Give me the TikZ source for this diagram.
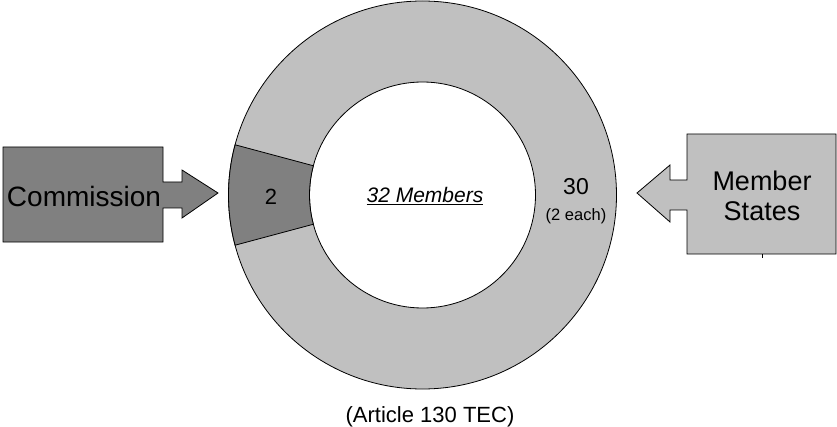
\documentclass[tikz,border=0pt]{standalone}
\usepackage{fontspec}
\setmainfont{Liberation Sans}
\definecolor{ringgray}{HTML}{C0C0C0}
\definecolor{seatgray}{HTML}{808080}
\begin{document}
\begin{tikzpicture}[x=1pt,y=1pt,
  outline/.style={draw=black,line width=0.8pt,line join=miter},
  label/.style={inner sep=0pt,text=black},
  fsz/.style={font=\fontsize{#1}{30}\selectfont}]
\useasboundingbox (0,0) rectangle (837,426);

% ring of seats
\begin{scope}[shift={(422.5,231)}]
  \fill[ringgray,even odd rule] (0,0) circle (194) (0,0) circle (113);
  \draw[line width=0.8pt] (0,0) circle (194);
  \draw[line width=0.8pt] (0,0) circle (113);
  % Commission seats
  \filldraw[fill=seatgray,outline] (165:194) arc[start angle=165,end angle=195,radius=194]
     -- (195:113) arc[start angle=195,end angle=165,radius=113] -- cycle;
\end{scope}

% Commission box with its arrow
\filldraw[fill=seatgray,outline] (3,279) -- (163,279) -- (163,244) -- (182,244) -- (182,256)
  -- (218,233) -- (182,208) -- (182,218) -- (163,218) -- (163,184) -- (3,184) -- cycle;

% Member States box with its arrow
\filldraw[fill=ringgray,outline] (687,292) -- (836,292) -- (836,172) -- (687,172) -- (687,216)
  -- (670,216) -- (670,204) -- (637,233) -- (670,261) -- (670,246) -- (687,246) -- cycle;
\coordinate (tickend) at (762,168);
\draw[line width=0.8pt] (762,172) -- (tickend);

% labels
\node[label,fsz=28,anchor=base] (commission) at (84,219) {Commission};
\node[label,fsz=27,align=center] (states) at (762,230) {Member\\States};
\node[label,fsz=22] (two) at (271,229) {2};
\node[label,fsz=21,anchor=base] (total) at (425,223) {\underline{\textit{32 Members}}};
\node[label,fsz=23,anchor=base] (thirty) at (576,231) {30};
\node[label,fsz=16.5,anchor=base] (each) at (576,205) {(2 each)};
\node[label,fsz=22,anchor=base] (article) at (430,4) {(Article 130 TEC)};
\end{tikzpicture}
\end{document}
